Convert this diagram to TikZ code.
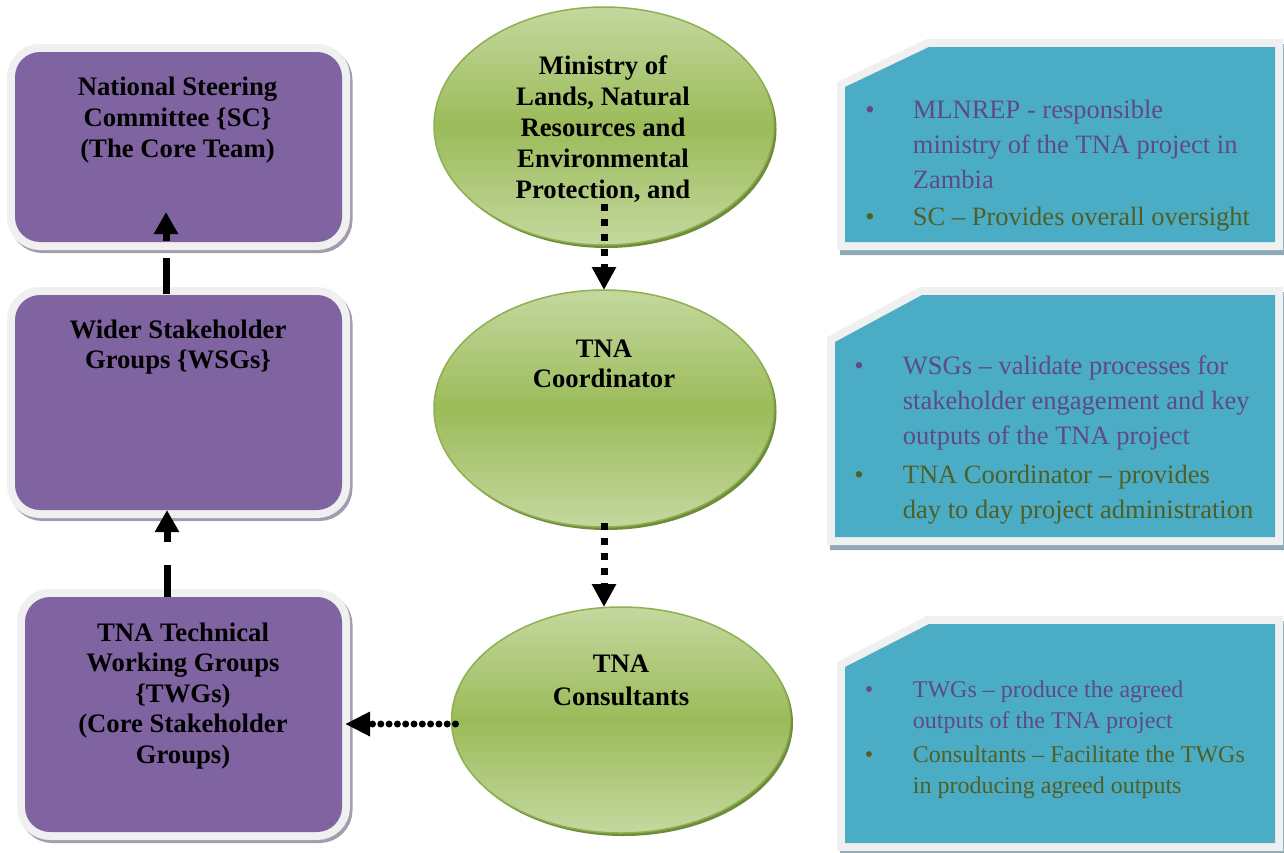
\documentclass[tikz,border=0pt]{standalone}
\usepackage{fontspec}
\setmainfont{Liberation Serif}
\usetikzlibrary{shapes.geometric,arrows.meta,calc}
\definecolor{pfill}{HTML}{8064A2}
\definecolor{frame}{HTML}{F0F0F0}
\definecolor{pshadow}{HTML}{A29DAE}
\definecolor{tfill}{HTML}{4BACC6}
\definecolor{tshadow}{HTML}{8DA9B3}
\definecolor{gmid}{HTML}{9BBB59}
\definecolor{glight}{HTML}{C4D89F}
\definecolor{gline}{HTML}{8EB050}
\definecolor{gshadow}{HTML}{6E8C3A}
\definecolor{tpurple}{HTML}{5F4A82}
\definecolor{tolive}{HTML}{505F26}
\newcommand\pframe[4]{%
  \path[draw=pshadow, fill=pshadow, line width=16pt, rounded corners=25pt] (#1+2.5,#2+3) rectangle (#3+2.5,#4+3);
  \path[draw=frame, fill=frame, line width=16pt, rounded corners=25pt] (#1,#2) rectangle (#3,#4);}
\newcommand\tframe[5]{% x1 ychamfer xchamfer ytop ybottom
  \path[draw=tshadow, fill=tshadow, line width=16pt, line join=miter] (#1+3,#2+5) -- (#3+3,#4+5) -- (1278,#4+5) -- (1278,#5+5) -- (#1+3,#5+5) -- cycle;
  \path[draw=frame, fill=frame, line width=16pt, line join=miter] (#1,#2) -- (#3,#4) -- (1275,#4) -- (1275,#5) -- (#1,#5) -- cycle;
  \path[fill=tfill] (#1,#2) -- (#3,#4) -- (1275,#4) -- (1275,#5) -- (#1,#5) -- cycle;}
\tikzset{
  pbox/.style={rectangle, rounded corners=25pt, fill=pfill, inner sep=0pt, outer sep=0pt},
  ell/.style={ellipse, draw=gline, line width=1.5pt, top color=glight, bottom color=glight, middle color=gmid, inner sep=0pt, outer sep=0pt},
  btext/.style={font=\bfseries\fontsize{26.7}{31}\selectfont, align=center, inner sep=0pt, anchor=north},
  ttext/.style={font=\fontsize{26.5}{35}\selectfont, align=left, inner sep=0pt, anchor=north west},
  stext/.style={font=\fontsize{24}{31.5}\selectfont, align=left, inner sep=0pt, anchor=north west},
  bul/.style={inner sep=0pt, anchor=base},
  sqdot/.style={line width=7pt, dash pattern=on 7pt off 8pt, -{Triangle[length=23pt,width=23pt]}},
  rddot/.style={line width=7pt, line cap=round, dash pattern=on 0pt off 8.3pt, -{Triangle[length=25pt,width=23pt]}},
  lgdash/.style={line width=7pt, -{Triangle[length=22pt,width=23pt]}}
}
\begin{document}
\begin{tikzpicture}[x=1pt,y=-1pt]
\useasboundingbox[fill=white] (0,0) rectangle (1284,852);

% purple boxes
\pframe{15}{52}{342}{242}
\pframe{15}{295}{342}{510}
\pframe{25}{597}{342}{832}
\node[pbox, minimum width=327pt, minimum height=190pt] (sc) at (178.5,147) {};
\node[pbox, minimum width=327pt, minimum height=215pt] (wsg) at (178.5,402.5) {};
\node[pbox, minimum width=317pt, minimum height=235pt] (twg) at (183.5,714.5) {};
\node[btext] (sct) at (177.5,75) {\rule{0pt}{20pt}National Steering\\Committee \{SC\}\\(The Core Team)};
\node[btext, font=\bfseries\fontsize{26.7}{30}\selectfont] (wsgt) at (178,318) {\rule{0pt}{20pt}Wider Stakeholder\\Groups \{WSGs\}};
\node[btext, font=\bfseries\fontsize{26.7}{30.5}\selectfont] (twgt) at (183,621) {\rule{0pt}{20pt}TNA Technical\\Working Groups\\\{TWGs)\\(Core Stakeholder\\Groups)};

% ellipses
\fill[gshadow] (606.5,129) ellipse [x radius=170, y radius=119];
\fill[gshadow] (606.5,411.5) ellipse [x radius=170, y radius=118.5];
\fill[gshadow] (623.5,723) ellipse [x radius=169.5, y radius=113];
\node[ell, minimum width=340pt, minimum height=238pt] (e1) at (604,126) {};
\node[ell, minimum width=340pt, minimum height=237pt] (e2) at (604,408.5) {};
\node[ell, minimum width=339pt, minimum height=226pt] (e3) at (621,720) {};
\node[btext] (e1t) at (603,54) {\rule{0pt}{20pt}Ministry of\\Lands, Natural\\Resources and\\Environmental\\Protection, and};
\node[btext, font=\bfseries\fontsize{26.7}{30}\selectfont] (e2t) at (604,337) {\rule{0pt}{20pt}TNA\\Coordinator};
\node[btext, font=\bfseries\fontsize{26.7}{33}\selectfont] (e3t) at (621,652) {\rule{0pt}{20pt}TNA\\Consultants};

% teal boxes
\tframe{845}{87}{929}{47}{242}
\tframe{835}{342}{922}{295}{537}
\tframe{845}{667}{929}{624}{843}

\node[bul, text=tpurple, font=\fontsize{26.5}{35}\selectfont] (ba1) at (870,118) {\textbullet};
\node[ttext, text=tpurple] (ta1) at (912.7,98) {\rule{0pt}{20pt}MLNREP - responsible\\ministry of the TNA project in\\Zambia};
\node[bul, text=tolive, font=\fontsize{26.5}{35}\selectfont] (ba2) at (870,225) {\textbullet};
\node[ttext, text=tolive] (ta2) at (912.7,205) {\rule{0pt}{20pt}SC -- Provides overall oversight};

\node[bul, text=tpurple, font=\fontsize{26.5}{35}\selectfont] (bb1) at (859,374) {\textbullet};
\node[ttext, text=tpurple] (tb1) at (902.7,354) {\rule{0pt}{20pt}WSGs -- validate processes for\\stakeholder engagement and key\\outputs of the TNA project};
\node[bul, text=tolive, font=\fontsize{26.5}{35}\selectfont] (bb2) at (859,483) {\textbullet};
\node[ttext, text=tolive] (tb2) at (902.7,463) {\rule{0pt}{20pt}TNA Coordinator -- provides\\day to day project administration};

\node[bul, text=tpurple, font=\fontsize{24}{31.5}\selectfont] (bc1) at (869,697) {\textbullet};
\node[stext, text=tpurple] (tc1) at (912.7,679) {\rule{0pt}{18pt}TWGs -- produce the agreed\\outputs of the TNA project};
\node[bul, text=tolive, font=\fontsize{24}{31.5}\selectfont] (bc2) at (869,762) {\textbullet};
\node[stext, text=tolive] (tc2) at (912.7,744) {\rule{0pt}{18pt}Consultants -- Facilitate the TWGs\\in producing agreed outputs};

% connectors
\draw[sqdot] ([yshift=41pt]e1.south) -- (e2.north);
\draw[sqdot] ([yshift=4pt]e2.south) -- (e2.south |- e3.north);
\coordinate (a3s) at ($(e3.west)+(4,4)$);
\draw[rddot] (a3s) -- ($(twg.east |- a3s)+(3,0)$);
\draw[lgdash, dash pattern=on 32pt off 23pt] ($(twg.north)+(-16.5,0)$) -- ($(wsg.south)+(-11.5,0)$);
\draw[lgdash, dash pattern=on 36pt off 17pt] ($(wsg.north)+(-12.5,-1)$) -- ($(sc.south)+(-12.5,-30)$);
\end{tikzpicture}
\end{document}
